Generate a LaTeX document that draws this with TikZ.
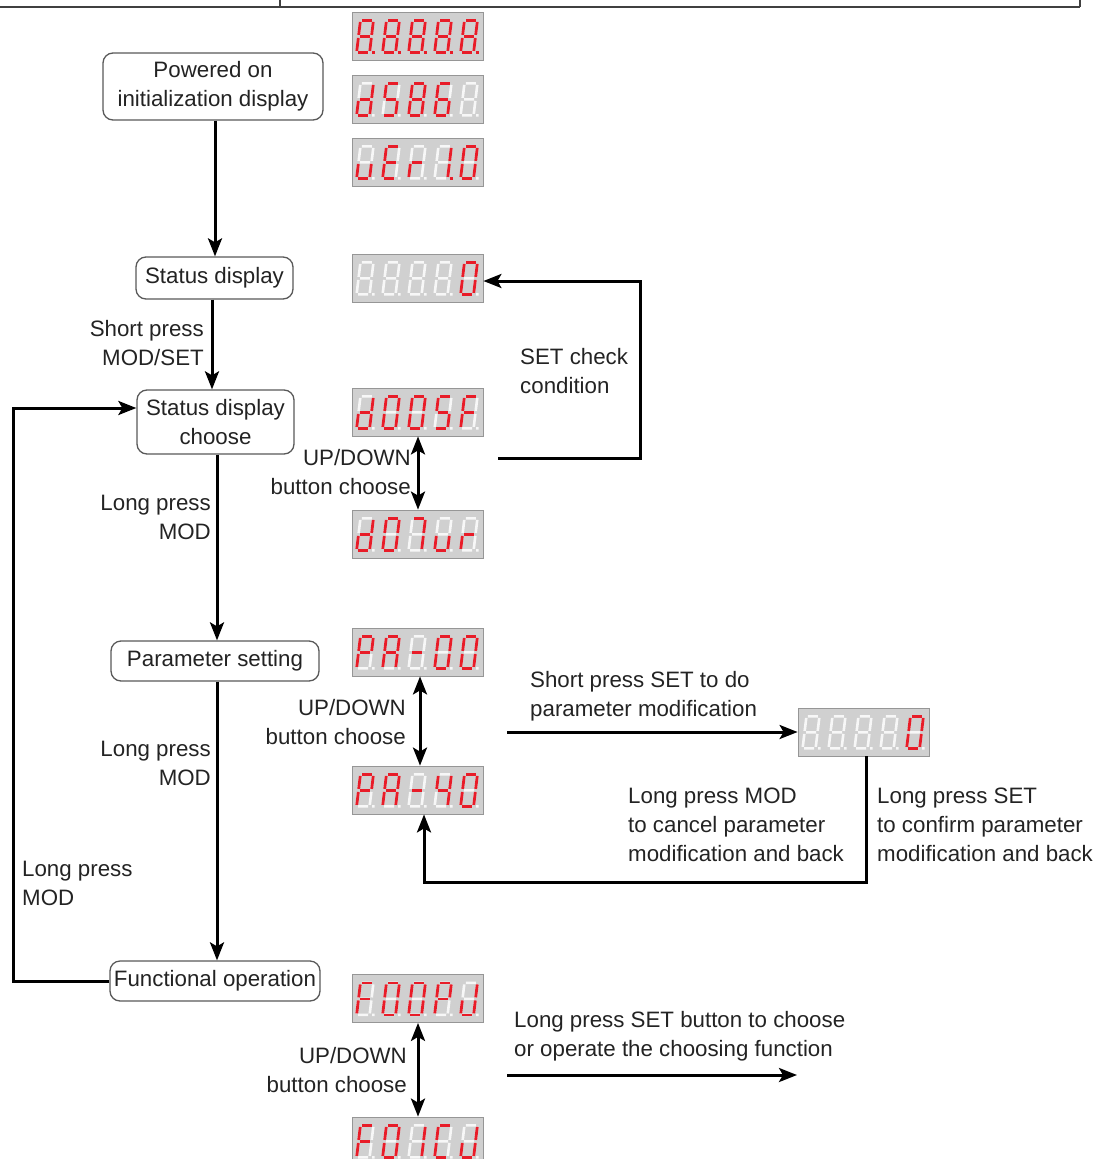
\documentclass[tikz,border=0pt]{standalone}
\usepackage{fontspec}
\setmainfont{Liberation Sans}
\usetikzlibrary{arrows.meta,calc}
\definecolor{segred}{RGB}{232,28,40}
\definecolor{boxgray}{RGB}{208,208,208}
\definecolor{boxedge}{RGB}{150,150,150}
\definecolor{txt}{RGB}{35,35,35}
% segment paths (local units, y up)
\def\SPa{(1.5,32)--(11.5,32)}
\def\SPb{(13,30.5)--(13,17.5)}
\def\SPc{(13,14.5)--(13,1.5)}
\def\SPd{(1.5,0)--(11.5,0)}
\def\SPe{(0,14.5)--(0,1.5)}
\def\SPf{(0,30.5)--(0,17.5)}
\def\SPg{(1.5,16)--(11.5,16)}
\def\SPp{(15.5,0)--(18,0)}
\def\SPn{(0,0)}
\newcommand\segdigit[3]{%
  \begin{scope}[shift={($(#1.south west)+(5+26*#2,-8)$)},x=1pt,y=1pt,xslant=0.12]
    \draw[unlitseg] \SPa \SPb \SPc \SPd \SPe \SPf \SPg \SPp;
    \foreach \s in {#3} {\draw[litseg] \csname SP\s\endcsname;}
  \end{scope}}
\newcommand\segdisplay[8]{%
  \node[dispbox] (#1) at (#2,#3) {};
  \segdigit{#1}{0}{#4}\segdigit{#1}{1}{#5}\segdigit{#1}{2}{#6}%
  \segdigit{#1}{3}{#7}\segdigit{#1}{4}{#8}}
\begin{document}
\begin{tikzpicture}[x=1pt,y=-1pt,
  every node/.style={font=\fontsize{22.3}{29}\selectfont,text=txt,inner sep=0pt},
  flowbox/.style={draw=black!65,line width=1.3pt,rounded corners=10pt,align=center,fill=white},
  dispbox/.style={draw=boxedge,fill=boxgray,line width=0.8pt,minimum width=131pt,minimum height=48pt},
  unlitseg/.style={draw=white,opacity=0.85,line width=2.6pt},
  litseg/.style={draw=segred,line width=2.8pt},
  tip/.tip={Stealth[length=18pt,width=14pt,inset=4pt]},
  arr/.style={line width=3pt,-tip},
  darr/.style={line width=3pt,tip-tip},
  lab/.style={align=left,anchor=west},
  labr/.style={align=right,anchor=east},
  tableline/.style={draw=black!75,line width=2pt}]
\useasboundingbox (0,0) rectangle (1096,1159);
\clip (0,0) rectangle (1096,1159);
% table border at top
\draw[tableline] (0,6.5) -- (1080,6.5) (280,0) -- (280,6.5) (1080,0) -- (1080,6.5);
% flow boxes
\node[flowbox,minimum width=220pt,minimum height=67pt] (pow) at (213,86.5) {Powered on\\initialization display};
\node[flowbox,minimum width=157pt,minimum height=42pt] (sd) at (214.5,278) {Status display};
\node[flowbox,minimum width=157pt,minimum height=64pt] (sdc) at (215.5,422) {Status display\\choose};
\node[flowbox,minimum width=208pt,minimum height=40pt] (ps) at (215,661) {Parameter setting};
\node[flowbox,minimum width=210pt,minimum height=40pt] (fo) at (215,981) {Functional operation};
% displays
\segdisplay{d1}{417.5}{36}{a,b,c,d,e,f,g,p}{a,b,c,d,e,f,g,p}{a,b,c,d,e,f,g,p}{a,b,c,d,e,f,g,p}{a,b,c,d,e,f,g,p}
\segdisplay{d2}{417.5}{99}{b,c,d,e,g}{a,c,d,f,g}{a,b,c,d,e,f,g}{a,c,d,e,f,g}{n}
\segdisplay{d3}{417.5}{162}{c,d,e}{a,d,e,f,g}{e,g}{b,c,p}{a,b,c,d,e,f}
\segdisplay{d4}{417.5}{278}{n}{n}{n}{n}{a,b,c,d,e,f}
\segdisplay{d5}{417.5}{412}{b,c,d,e,g}{a,b,c,d,e,f}{a,b,c,d,e,f}{a,c,d,f,g}{a,e,f,g}
\segdisplay{d6}{417.5}{534}{b,c,d,e,g}{a,b,c,d,e,f}{a,b,c}{c,d,e}{e,g}
\segdisplay{d7}{417.5}{652}{a,b,e,f,g}{a,b,c,e,f,g}{g}{a,b,c,d,e,f}{a,b,c,d,e,f}
\segdisplay{d8}{417.5}{790}{a,b,e,f,g}{a,b,c,e,f,g}{g}{b,c,f,g}{a,b,c,d,e,f}
\segdisplay{d9}{863.5}{732}{n}{n}{n}{n}{a,b,c,d,e,f}
\segdisplay{d10}{417.5}{998.5}{a,e,f,g}{a,b,c,d,e,f}{a,b,c,d,e,f}{a,b,e,f,g}{b,c,d,e}
\segdisplay{d11}{417.5}{1141}{a,e,f,g}{a,b,c,d,e,f}{b,c}{a,d,e,f}{b,c,d,e}
% main flow
\draw[arr] ([xshift=2pt]pow.south) -- ([xshift=2pt]pow.south |- sd.north);
\draw[arr] ([xshift=-2.5pt]sd.south) -- ([xshift=-2.5pt]sd.south |- sdc.north);
\draw[arr] ([xshift=1.5pt]sdc.south) -- ([xshift=1.5pt]sdc.south |- ps.north);
\draw[arr] ([xshift=2pt]ps.south) -- ([xshift=2pt]ps.south |- fo.north);
\draw[arr] (fo.west) -- ++(-96,0) |- ([yshift=14pt]sdc.west);
\node[labr] (l1) at (204,343) {Short press\\MOD/SET};
\node[labr] (l2) at (211,517) {Long press\\MOD};
\node[labr] (l3) at (211,763) {Long press\\MOD};
\node[lab] (l4) at (22,883) {Long press\\MOD};
% status display choose
\draw[darr] ([xshift=0.5pt]d5.south) -- ([xshift=0.5pt]d6.north);
\node[labr] (l5) at (411,472.5) {UP/DOWN\\button choose};
\coordinate (setc) at (498,458);
\draw[arr] (setc) -- (640,458) |- ([yshift=-3pt]d4.east);
\node[lab] (l6) at (520,371) {SET check\\condition};
% parameter setting
\draw[darr] ([xshift=2.5pt]d7.south) -- ([xshift=2.5pt]d8.north);
\node[labr] (l7) at (406,722.5) {UP/DOWN\\button choose};
\coordinate (psc) at (507,732);
\draw[arr] (psc) -- (d9.west);
\node[lab] (l8) at (530,696) {Short press SET to do\\parameter modification};
\draw[arr] ([xshift=2.5pt]d9.south) -- ++(0,126) -| ([xshift=6.5pt]d8.south);
\node[lab] (l9) at (628,825) {Long press MOD\\to cancel parameter\\modification and back};
\node[lab] (l10) at (877,825) {Long press SET\\to confirm parameter\\modification and back};
% functional operation
\draw[darr] ([xshift=0.5pt]d10.south) -- ([xshift=0.5pt]d11.north);
\node[labr] (l11) at (407,1070) {UP/DOWN\\button choose};
\coordinate (foa) at (507,1075);
\coordinate (fob) at (797,1075);
\draw[arr] (foa) -- (fob);
\node[lab] (l12) at (514,1036) {Long press SET button to choose\\or operate the choosing function};
\end{tikzpicture}
\end{document}
